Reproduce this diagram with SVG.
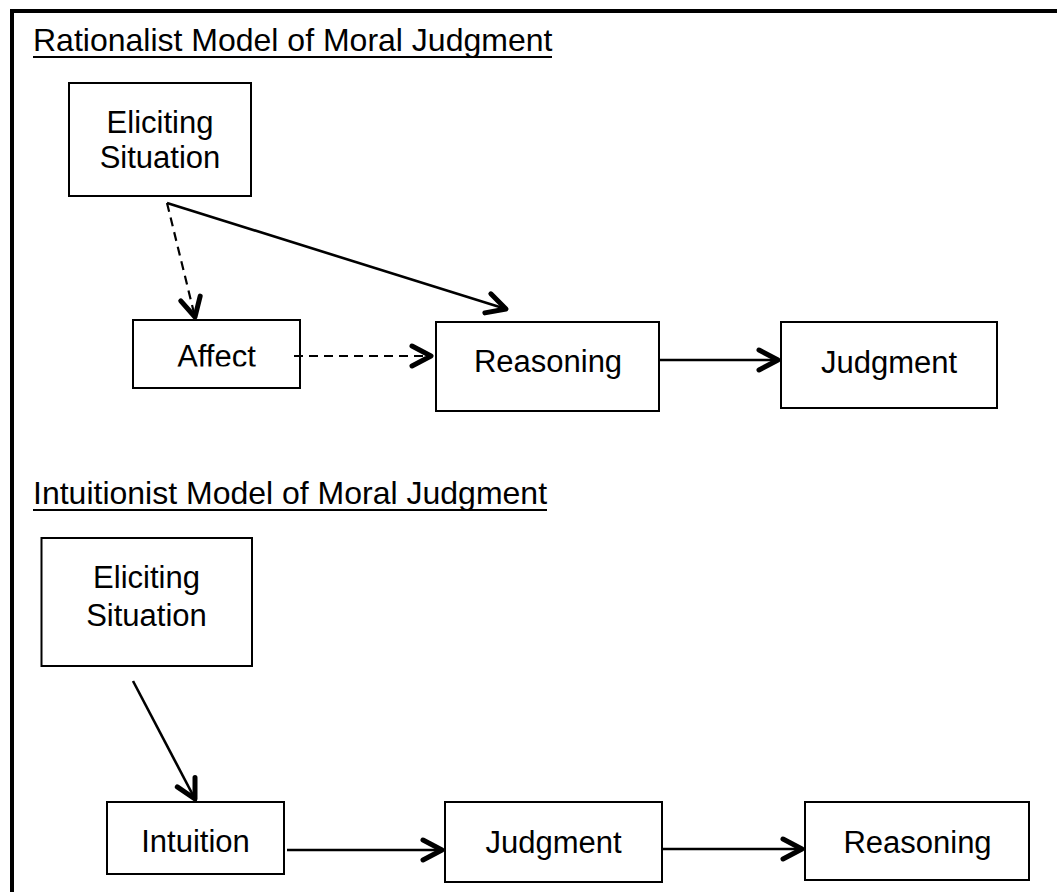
<svg xmlns="http://www.w3.org/2000/svg" width="1057" height="892" viewBox="0 0 1057 892">
  <style>
    .box { fill: #ffffff; stroke: #000000; stroke-width: 2; }
    .lbl { font-family: "Liberation Sans", Arial, sans-serif; font-size: 31px; fill: #000000; text-anchor: middle; }
    .title { font-family: "Liberation Sans", Arial, sans-serif; font-size: 32px; fill: #000000; }
    .uline { stroke: #000000; stroke-width: 2; }
    .conn { fill: none; stroke: #000000; stroke-width: 2.6; }
    .dash { stroke-width: 2.2; stroke-dasharray: 9 6; }
  </style>
  <defs>
    <marker id="arrow" markerUnits="userSpaceOnUse" markerWidth="32" markerHeight="32" viewBox="-26 -16 32 32" refX="0" refY="0" orient="auto">
      <path d="M-19,-10 L0,0 L-19,10" fill="none" stroke="#000000" stroke-width="5" stroke-linecap="round" stroke-linejoin="round" stroke-dasharray="none"/>
    </marker>
    <clipPath id="affectClip">
      <rect x="133" y="320" width="167" height="46.5"/>
    </clipPath>
  </defs>
  <rect x="0" y="0" width="1057" height="892" fill="#ffffff"/>
  <path d="M12,892 V11 H1057" fill="none" stroke="#000000" stroke-width="4"/>

  <g id="title-rationalist">
    <text class="title" x="33" y="51">Rationalist Model of Moral Judgment</text>
    <line class="uline" x1="33" y1="57" x2="552" y2="57"/>
  </g>
  <g id="title-intuitionist">
    <text class="title" x="33" y="504">Intuitionist Model of Moral Judgment</text>
    <line class="uline" x1="33" y1="510" x2="547" y2="510"/>
  </g>

  <g id="r-eliciting">
    <rect class="box" x="69" y="83" width="182" height="113"/>
    <text class="lbl" x="160" y="133">Eliciting</text>
    <text class="lbl" x="160" y="168">Situation</text>
  </g>
  <g id="r-affect">
    <rect class="box" x="133" y="320" width="167" height="68"/>
    <text class="lbl" x="216.5" y="367" clip-path="url(#affectClip)">Affect</text>
  </g>
  <g id="r-reasoning">
    <rect class="box" x="436" y="322" width="223" height="89"/>
    <text class="lbl" x="548" y="372">Reasoning</text>
  </g>
  <g id="r-judgment">
    <rect class="box" x="781" y="322" width="216" height="86"/>
    <text class="lbl" x="889" y="373">Judgment</text>
  </g>

  <g id="i-eliciting">
    <rect class="box" x="41.5" y="538" width="210.5" height="128"/>
    <text class="lbl" x="146.5" y="588">Eliciting</text>
    <text class="lbl" x="146.5" y="626">Situation</text>
  </g>
  <g id="i-intuition">
    <rect class="box" x="107" y="802" width="177" height="72"/>
    <text class="lbl" x="195.5" y="852">Intuition</text>
  </g>
  <g id="i-judgment">
    <rect class="box" x="445" y="802" width="217" height="80"/>
    <text class="lbl" x="553.5" y="853">Judgment</text>
  </g>
  <g id="i-reasoning">
    <rect class="box" x="805" y="802" width="224" height="78"/>
    <text class="lbl" x="917.5" y="853">Reasoning</text>
  </g>

  <g id="connectors">
    <line class="conn dash" x1="167" y1="203" x2="195" y2="317" marker-end="url(#arrow)"/>
    <line class="conn" x1="167" y1="203" x2="506" y2="309" marker-end="url(#arrow)"/>
    <line class="conn dash" x1="294" y1="356" x2="431" y2="356" marker-end="url(#arrow)"/>
    <line class="conn" x1="660" y1="360" x2="778" y2="360" marker-end="url(#arrow)"/>
    <line class="conn" x1="133" y1="681" x2="195" y2="799" marker-end="url(#arrow)"/>
    <line class="conn" x1="287" y1="850" x2="442" y2="850" marker-end="url(#arrow)"/>
    <line class="conn" x1="662" y1="849" x2="802" y2="849" marker-end="url(#arrow)"/>
  </g>
</svg>
